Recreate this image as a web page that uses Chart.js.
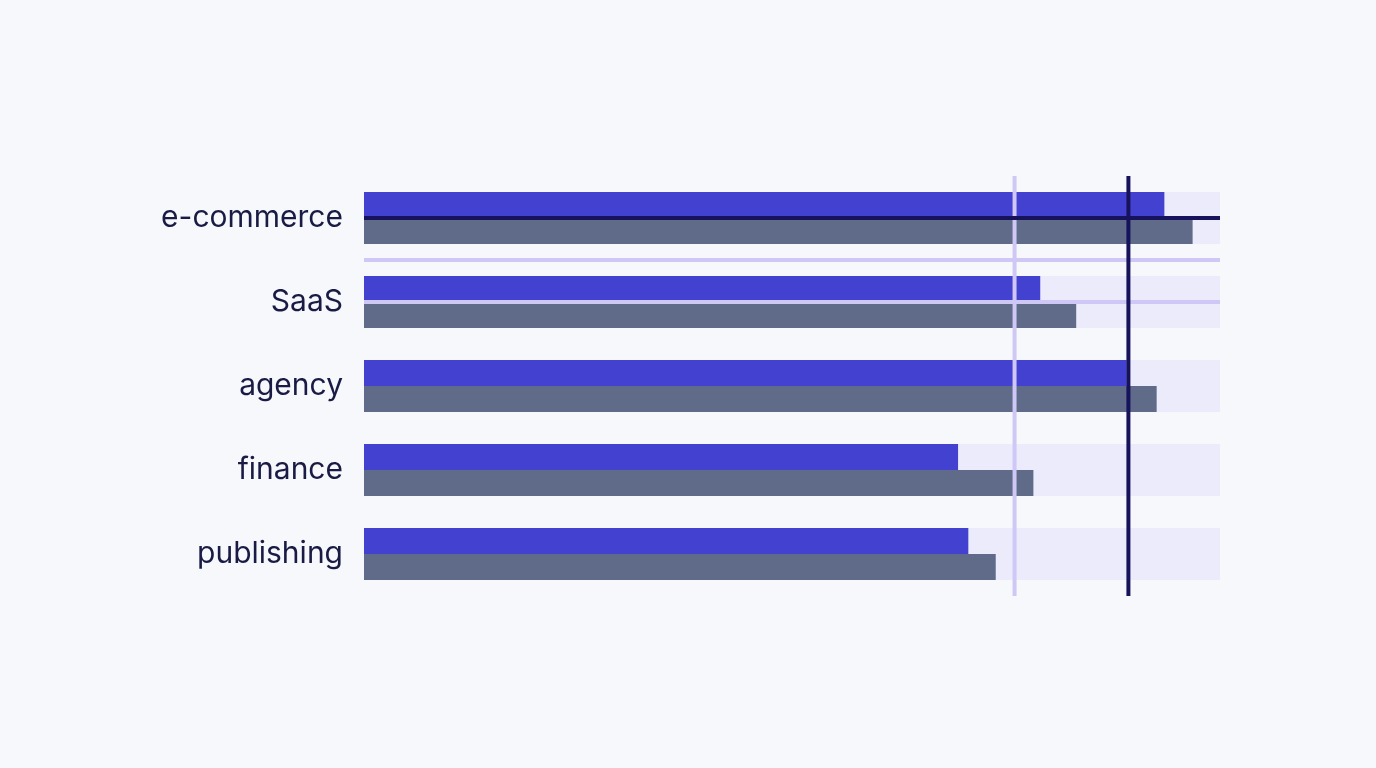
<!DOCTYPE html>
<html>
<head>
<meta charset="utf-8">
<script src="https://cdn.jsdelivr.net/npm/chart.js@4"></script>
<style>
  html, body { margin: 0; padding: 0; background: #F7F8FC; }
  #wrap { width: 1376px; height: 768px; }
</style>
</head>
<body>
<div id="wrap"><canvas id="mychart" width="1376" height="768"></canvas></div>
<script>
const categories = ['e-commerce', 'SaaS', 'agency', 'finance', 'publishing'];
const actualValues = [93.5, 79.0, 89.1, 69.4, 70.6];
const compareValues = [96.8, 83.2, 92.6, 78.2, 73.8];
const rangeValues = [100, 100, 100, 100, 100];
const lightRefX = [76.0];
const darkRefX = [89.3];
const lightRefY = [0.5, 1];
const darkRefY = [0];

const refLines = {
    id: 'refLines',
    afterDatasetsDraw(chart) {
        const {ctx, chartArea, scales} = chart;
        const draw = (xs, ys, color) => {
            ctx.save();
            ctx.strokeStyle = color;
            ctx.lineWidth = 4;
            xs.forEach(v => {
                const x = scales.x.getPixelForValue(v);
                ctx.beginPath();
                ctx.moveTo(x, chartArea.top);
                ctx.lineTo(x, chartArea.bottom);
                ctx.stroke();
            });
            ys.forEach(v => {
                const y = scales.y.getPixelForValue(v);
                ctx.beginPath();
                ctx.moveTo(chartArea.left, y);
                ctx.lineTo(chartArea.right, y);
                ctx.stroke();
            });
            ctx.restore();
        };
        draw(lightRefX, lightRefY, '#CFC7F6');
        draw(darkRefX, darkRefY, '#16135C');
    }
};

const data = {
    labels: categories,
    datasets: [
        {
            label: 'actual',
            data: actualValues,
            backgroundColor: '#4341D0',
            categoryPercentage: 0.62,
            barPercentage: 1,
            order: 1,
        },
        {
            label: 'compare',
            data: compareValues,
            backgroundColor: '#5F6B88',
            categoryPercentage: 0.62,
            barPercentage: 1,
            order: 1,
        },
        {
            label: 'range',
            data: rangeValues,
            backgroundColor: '#EBEBFB',
            grouped: false,
            categoryPercentage: 0.62,
            barPercentage: 1,
            order: 2,
        }
    ]
};

const config = {
    type: 'bar',
    data: data,
    plugins: [refLines],
    options: {
        indexAxis: 'y',
        responsive: false,
        animation: false,
        layout: { padding: { top: 176, bottom: 172, left: 0, right: 156 } },
        plugins: {
            legend: { display: false },
            tooltip: { enabled: false },
        },
        scales: {
            x: {
                display: false,
                min: 0,
                max: 100,
            },
            y: {
                grid: { display: false },
                border: { display: false },
                afterFit: (scale) => { scale.width = 364; },
                ticks: {
                    padding: 13,
                    color: '#1A1B45',
                    font: { size: 30, family: 'Inter' },
                },
            }
        }
    }
};

const ctx = document.getElementById('mychart').getContext('2d');
new Chart(ctx, config);
</script>
</body>
</html>
